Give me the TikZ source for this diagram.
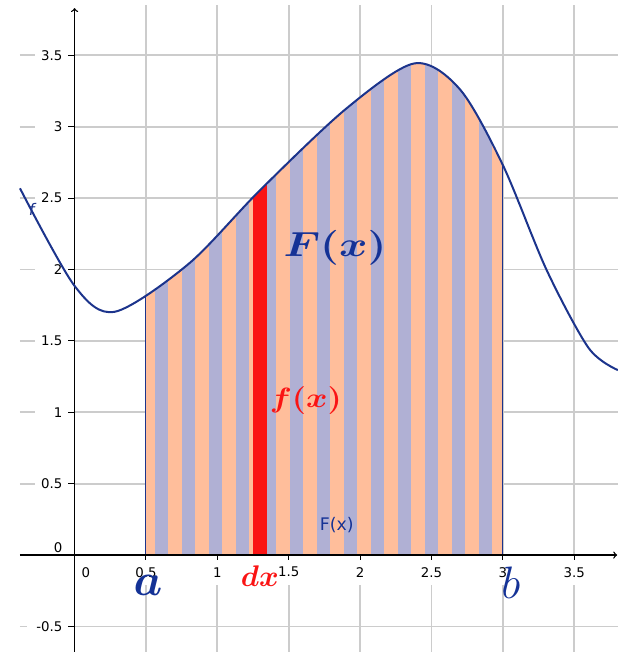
\documentclass[tikz,border=0pt]{standalone}
\usepackage{fontspec}
\usepackage{amsmath}
\newfontfamily\ggbfont{DejaVu Sans}
\definecolor{peach}{RGB}{255,190,155}
\definecolor{lilac}{RGB}{176,176,212}
\definecolor{curveblue}{RGB}{28,52,140}
\definecolor{labelblue}{RGB}{20,50,150}
\definecolor{stripred}{RGB}{250,20,20}
\definecolor{gridgray}{RGB}{204,204,204}

\begin{document}
\begin{tikzpicture}[x=3.765cm,y=3.765cm,
  ticklabel/.style={font=\ggbfont\fontsize{10}{12}\selectfont, inner sep=1pt},
  gridline/.style={gridgray, line width=1.3pt},
  biglabel/.style={font=\fontsize{24.88}{30}\selectfont}]
\useasboundingbox (-0.522,-0.679) rectangle (3.805,3.887);

% grid, left open where the labels sit
\foreach \v in {0.5,1,1.5,2,2.5,3,3.5} {
  \draw[gridline] (\v,3.85) -- (\v,0);
  \draw[gridline] (\v,-0.21) -- (\v,-0.679);
  \draw[gridline] (-0.382,\v) -- (-0.28,\v);
  \draw[gridline] (0,\v) -- (3.805,\v);
}
\draw[gridline] (-0.382,-0.5) -- (-0.33,-0.5);
\draw[gridline] (0,-0.5) -- (3.805,-0.5);

% area between a and b
\begin{scope}
\clip (-0.382,0) -- plot[smooth] coordinates {(-0.382,2.568) (0,1.885) (0.283,1.704) (0.8,2.04) (1.3,2.556) (1.9,3.124) (2.38,3.443) (2.7,3.26) (3.0,2.73) (3.306,1.996) (3.6,1.45) (3.805,1.295)} -- (3.805,0) -- cycle;
\begin{scope}
\clip (0.5,0) rectangle (3,3.6);
\fill[peach] (0.5,0) rectangle (3,3.6);
\foreach \k in {0,...,12}
  \fill[lilac] ({0.563+0.189*\k},0) rectangle ++(0.0945,3.6);
\fill[stripred] (1.249,0) rectangle (1.347,3.6);
\end{scope}
\draw[curveblue, line width=0.8pt] (0.5,0) -- (0.5,3.6);
\draw[curveblue, line width=0.8pt] (3,0) -- (3,3.6);
\end{scope}

% axes
\draw[line width=1pt, ->] (-0.382,0) -- (3.80,0);
\draw[line width=1pt, ->] (0,-0.679) -- (0,3.83);
\foreach \v [count=\i] in {0.5,1,1.5,2,2.5,3,3.5} {
  \draw[line width=0.8pt] (\v,0) -- (\v,-0.035);
  \draw[line width=0.8pt] (0,\v) -- (-0.045,\v);
  \node[ticklabel] (xt\i) at (\v,-0.12) {\v};
  \node[ticklabel, anchor=east] (yt\i) at (-0.074,\v) {\v};
}
\draw[line width=0.8pt] (0,-0.5) -- (-0.045,-0.5);
\node[ticklabel] (xt0) at (0.08,-0.12) {0};
\node[ticklabel, anchor=east] (yt0) at (-0.074,0.05) {0};
\node[ticklabel, anchor=east] (ytm) at (-0.074,-0.5) {-0.5};

% the function f
\draw[curveblue, line width=1.5pt] plot[smooth] coordinates {(-0.382,2.568) (0,1.885) (0.283,1.704) (0.8,2.04) (1.3,2.556) (1.9,3.124) (2.38,3.443) (2.7,3.26) (3.0,2.73) (3.306,1.996) (3.6,1.45) (3.805,1.295)};
\node[text=curveblue, font=\ggbfont\fontsize{12}{14}\selectfont\itshape] (fname) at (-0.30,2.42) {f};

% labels
\node[biglabel, text=labelblue, xscale=1.3, yscale=1.05] (Fbig) at (1.824,2.15) {$\boldsymbol{F(x)}$};
\node[biglabel, text=stripred, xscale=0.98, yscale=0.84] (fred) at (1.62,1.085) {$\boldsymbol{f(x)}$};
\node[text=labelblue, font=\ggbfont\fontsize{13}{15}\selectfont] (Fsmall) at (1.837,0.21) {F(x)};
\node[biglabel, text=labelblue, scale=1.37] (alab) at (0.514,-0.21) {$\boldsymbol{a}$};
\node[biglabel, text=labelblue, scale=1.37] (blab) at (3.056,-0.196) {$b$};
\node[biglabel, text=stripred, scale=0.9] (dxlab) at (1.298,-0.147) {$\boldsymbol{dx}$};
\end{tikzpicture}
\end{document}
